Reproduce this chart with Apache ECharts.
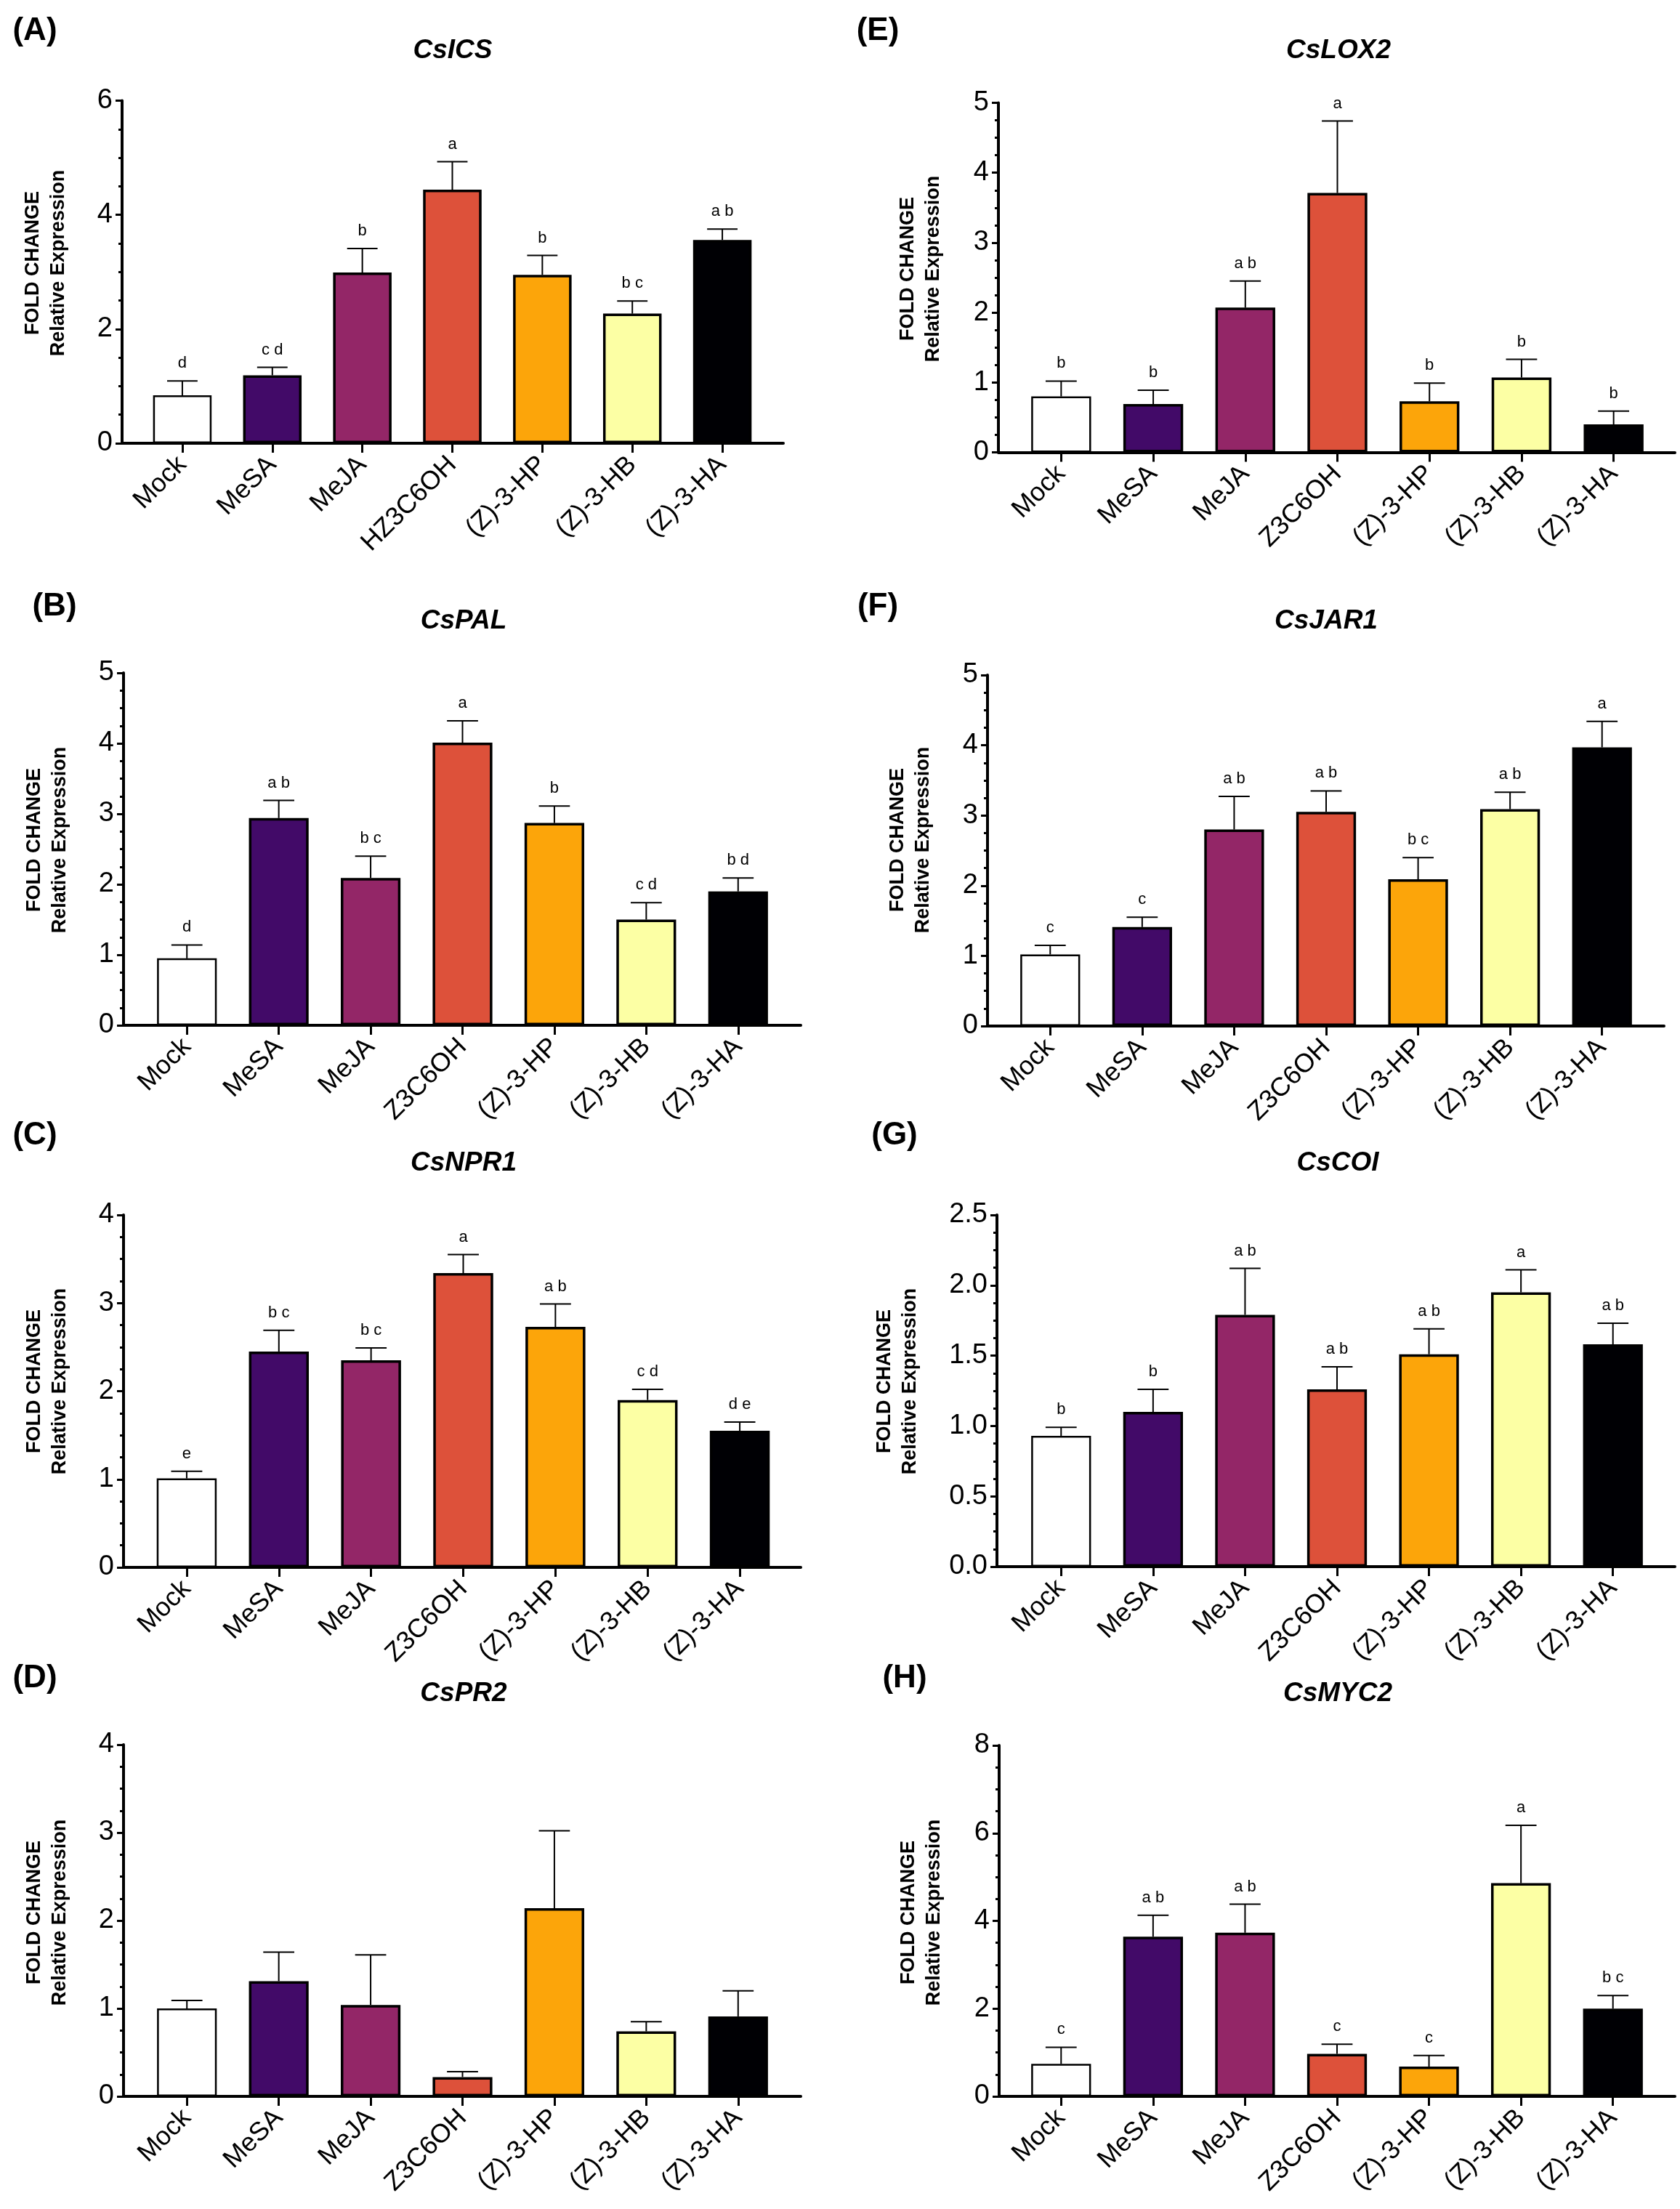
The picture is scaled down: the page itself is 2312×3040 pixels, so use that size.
<!DOCTYPE html>
<html><head><meta charset="utf-8">
<script src="https://cdn.jsdelivr.net/npm/echarts/dist/echarts.min.js"></script>
<style>html,body{margin:0;padding:0;background:#fff}#c{width:2312px;height:3040px}</style>
</head><body><div id="c"></div>
<script>
// ---------- data ----------
const CATS_ICS = ['Mock','MeSA','MeJA','HZ3C6OH','(Z)-3-HP','(Z)-3-HB','(Z)-3-HA'];
const CATS = ['Mock','MeSA','MeJA','Z3C6OH','(Z)-3-HP','(Z)-3-HB','(Z)-3-HA'];

const ICS_MEAN = [0.84,1.19,2.99,4.44,2.95,2.27,3.56];
const ICS_TOP  = [1.09,1.33,3.41,4.93,3.29,2.49,3.75];
const ICS_LET  = ['d','c d','b','a','b','b c','a b'];

const LOX2_MEAN = [0.80,0.69,2.07,3.71,0.73,1.07,0.40];
const LOX2_TOP  = [1.02,0.89,2.45,4.74,0.99,1.33,0.59];
const LOX2_LET  = ['b','b','a b','a','b','b','b'];

const PAL_MEAN = [0.95,2.94,2.09,4.01,2.87,1.50,1.90];
const PAL_TOP  = [1.14,3.19,2.40,4.32,3.11,1.74,2.09];
const PAL_LET  = ['d','a b','b c','a','b','c d','b d'];

const JAR1_MEAN = [1.02,1.41,2.80,3.05,2.09,3.09,3.97];
const JAR1_TOP  = [1.15,1.55,3.27,3.35,2.40,3.33,4.34];
const JAR1_LET  = ['c','c','a b','a b','b c','a b','a'];

const NPR1_MEAN = [1.01,2.45,2.35,3.34,2.73,1.90,1.55];
const NPR1_TOP  = [1.09,2.69,2.49,3.55,2.99,2.02,1.65];
const NPR1_LET  = ['e','b c','b c','a','a b','c d','d e'];

const COI_MEAN = [0.93,1.10,1.79,1.26,1.51,1.95,1.58];
const COI_TOP  = [0.99,1.26,2.12,1.42,1.69,2.11,1.73];
const COI_LET  = ['b','b','a b','a b','a b','a','a b'];

const PR2_MEAN = [1.00,1.31,1.04,0.22,2.14,0.74,0.91];
const PR2_TOP  = [1.09,1.64,1.61,0.28,3.02,0.85,1.20];
const PR2_LET  = ['','','','','','',''];

const MYC2_MEAN = [0.74,3.64,3.73,0.97,0.68,4.86,2.00];
const MYC2_TOP  = [1.12,4.13,4.38,1.19,0.93,6.18,2.30];
const MYC2_LET  = ['c','a b','a b','c','c','a','b c'];

const PANELS = [
  {label:'(A)', gene:'CsICS',  cats:CATS_ICS, mean:ICS_MEAN,  top:ICS_TOP,  letters:ICS_LET,  max:6,   interval:2,   dec:0},
  {label:'(E)', gene:'CsLOX2', cats:CATS,     mean:LOX2_MEAN, top:LOX2_TOP, letters:LOX2_LET, max:5,   interval:1,   dec:0},
  {label:'(B)', gene:'CsPAL',  cats:CATS,     mean:PAL_MEAN,  top:PAL_TOP,  letters:PAL_LET,  max:5,   interval:1,   dec:0},
  {label:'(F)', gene:'CsJAR1', cats:CATS,     mean:JAR1_MEAN, top:JAR1_TOP, letters:JAR1_LET, max:5,   interval:1,   dec:0},
  {label:'(C)', gene:'CsNPR1', cats:CATS,     mean:NPR1_MEAN, top:NPR1_TOP, letters:NPR1_LET, max:4,   interval:1,   dec:0},
  {label:'(G)', gene:'CsCOI',  cats:CATS,     mean:COI_MEAN,  top:COI_TOP,  letters:COI_LET,  max:2.5, interval:0.5, dec:1},
  {label:'(D)', gene:'CsPR2',  cats:CATS,     mean:PR2_MEAN,  top:PR2_TOP,  letters:PR2_LET,  max:4,   interval:1,   dec:0},
  {label:'(H)', gene:'CsMYC2', cats:CATS,     mean:MYC2_MEAN, top:MYC2_TOP, letters:MYC2_LET, max:8,   interval:2,   dec:0}
];

// ---------- layout / style ----------
const BAR_COLORS = ['#ffffff','#420a68','#932667','#dd513a','#fca50a','#fcffa4','#000004'];
// frame: [left, right, top, bottom]; band: [left, right]; title [x,y]; label [x,y]; yname [x,y]
const LAYOUT = [
  {frame:[168,1078,138.5,610],  band:[189,1056],  title:[623,70],   label:[48,43],    yname:[63,362]},
  {frame:[1374,2305,141.5,622.5],band:[1397,2284],title:[1842,70],  label:[1208,43],  yname:[1267,370]},
  {frame:[170,1102,926,1411],   band:[194,1079],  title:[638,855],  label:[75,835],   yname:[65,1156]},
  {frame:[1359,2290,929,1412],  band:[1382,2268], title:[1825,855], label:[1208,835], yname:[1253,1156]},
  {frame:[170,1102,1672,2157],  band:[193.5,1081.5],title:[638,1601],label:[48,1563],  yname:[65,1901]},
  {frame:[1372,2305,1672,2156], band:[1397,2283], title:[1841,1601],label:[1231,1563],yname:[1235,1901]},
  {frame:[170,1102,2401,2885],  band:[194,1079],  title:[638,2331], label:[48,2310],  yname:[65,2632]},
  {frame:[1375,2305,2402,2885], band:[1397,2283], title:[1841,2331],label:[1245,2310],yname:[1268,2632]}
];
const FONT = '"Liberation Sans", Arial, Helvetica, sans-serif';

const grid = [], xAxis = [], yAxis = [], series = [], graphic = [];
PANELS.forEach((p, i) => {
  const L = LAYOUT[i];
  const [fl, fr, ft, fb] = L.frame;
  const [bl, br] = L.band;
  const gF = 2*i, gB = 2*i+1;
  grid.push({left: fl, top: ft, width: fr-fl, height: fb-ft});
  grid.push({left: bl, top: ft, width: br-bl, height: fb-ft});
  // frame axes
  xAxis.push({gridIndex: gF, type:'value', min:0, max:1, axisLine:{show:true, lineStyle:{color:'#000', width:4}},
    axisTick:{show:false}, axisLabel:{show:false}, splitLine:{show:false}});
  yAxis.push({gridIndex: gF, type:'value', min:0, max:p.max, interval:p.interval,
    axisLine:{show:true, lineStyle:{color:'#000', width:4}},
    axisTick:{show:true, inside:false, length:9, lineStyle:{color:'#000', width:3}},
    minorTick:{show:true, splitNumber:4, length:5, lineStyle:{color:'#000', width:3}},
    axisLabel:{show:true, margin:13, fontSize:38, color:'#000', fontFamily:FONT,
      formatter: v => v.toFixed(p.dec)},
    splitLine:{show:false}, minorSplitLine:{show:false}});
  // band axes
  xAxis.push({gridIndex: gB, type:'category', data:p.cats, boundaryGap:true,
    axisLine:{show:false}, axisTick:{show:true, alignWithLabel:true, length:13, lineStyle:{color:'#000', width:3}},
    axisLabel:{show:true, rotate:45, margin:24, fontSize:36, color:'#000', fontFamily:FONT, interval:0},
    splitLine:{show:false}});
  yAxis.push({gridIndex: gB, type:'value', min:0, max:p.max, show:false});

  series.push({type:'bar', xAxisIndex:gB, yAxisIndex:gB, barWidth:'65%', z:2,
    data: p.mean.map((v, k) => ({value:v, itemStyle:{color:BAR_COLORS[k], borderColor:'#000', borderWidth: k===0 ? 2.5 : 3.5}})),
    animation:false});
  series.push({type:'custom', xAxisIndex:gB, yAxisIndex:gB, z:5, animation:false,
    data: p.mean.map((v, k) => [k, v, p.top[k]]),
    renderItem: (params, api) => {
      const k = api.value(0);
      const p0 = api.coord([k, api.value(1)]);
      const p1 = api.coord([k, api.value(2)]);
      const band = api.size([1, 0])[0];
      const half = band * 0.65 * 0.26;
      const st = {stroke:'#000', lineWidth:2};
      const children = [
        {type:'line', shape:{x1:p0[0], y1:p0[1], x2:p1[0], y2:p1[1]}, style:st},
        {type:'line', shape:{x1:p1[0]-half, y1:p1[1], x2:p1[0]+half, y2:p1[1]}, style:st}
      ];
      const letter = p.letters[params.dataIndex];
      if (letter) children.push({type:'text', x:p1[0], y:p1[1]-13,
        style:{text:letter, align:'center', verticalAlign:'bottom', fontSize:22, fontFamily:FONT, fill:'#000'}});
      return {type:'group', children};
    }});

  graphic.push({type:'text', x:L.title[0], y:L.title[1],
    style:{text:p.gene, align:'center', verticalAlign:'middle', fontSize:37, fontWeight:'bold', fontStyle:'italic', fontFamily:FONT, fill:'#000'}});
  graphic.push({type:'text', x:L.label[0], y:L.label[1],
    style:{text:p.label, align:'center', verticalAlign:'middle', fontSize:44, fontWeight:'bold', fontFamily:FONT, fill:'#000'}});
  graphic.push({type:'text', x:L.yname[0], y:L.yname[1], rotation:Math.PI/2,
    style:{text:'FOLD CHANGE\nRelative Expression', align:'center', verticalAlign:'middle', lineHeight:35,
      fontSize:27, fontWeight:'bold', fontFamily:FONT, fill:'#000'}});
});

const chart = echarts.init(document.getElementById('c'));
chart.setOption({backgroundColor:'#fff', animation:false, grid, xAxis, yAxis, series, graphic});
</script></body></html>
